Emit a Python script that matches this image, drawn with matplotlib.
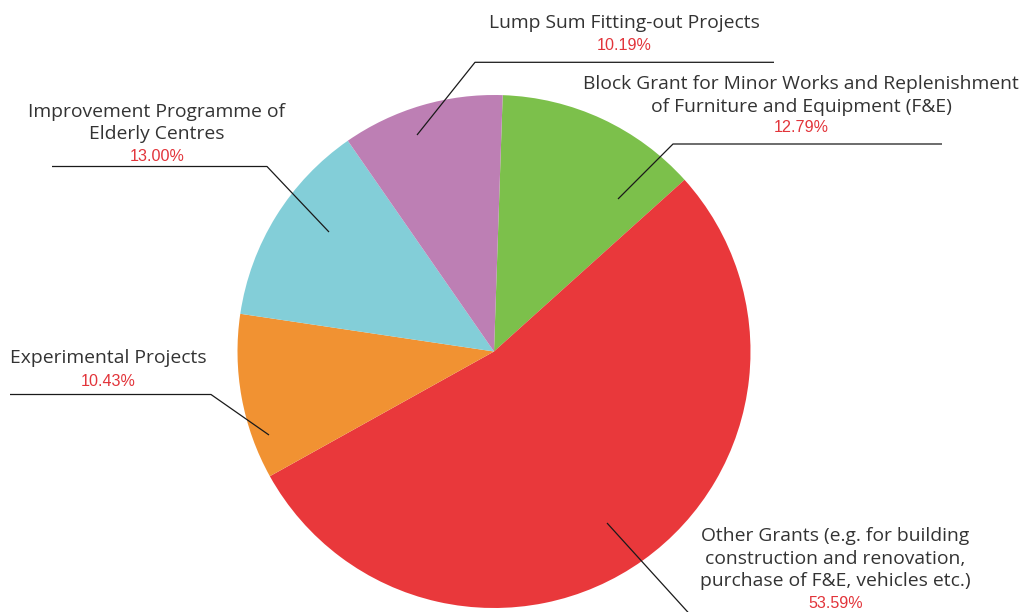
import matplotlib
matplotlib.use("Agg")
import matplotlib.pyplot as plt

# ---- data ----
categories = [
    "Block Grant for Minor Works and Replenishment\nof Furniture and Equipment (F&E)",
    "Other Grants (e.g. for building\nconstruction and renovation,\npurchase of F&E, vehicles etc.)",
    "Experimental Projects",
    "Improvement Programme of\nElderly Centres",
    "Lump Sum Fitting-out Projects",
]
values = [12.79, 53.59, 10.43, 13.00, 10.19]
pct_labels = ["12.79%", "53.59%", "10.43%", "13.00%", "10.19%"]
colors = ["#7CC04B", "#E9383B", "#F19232", "#83CED8", "#BD7FB4"]

W, H = 1026, 612
def Y(y):
    return H - y

# annotation layout (pixel coords, y from top)
# leader: (inner point, elbow point, horizontal end)
leaders = [
    ((618, 199), (673, 144), (942, 144)),
    ((607, 523), (695, 620), (985, 620)),
    ((269, 435), (211, 394.5), (10, 394.5)),
    ((329, 232), (267, 166.5), (52, 166.5)),
    ((417, 135), (475, 62.3), (774, 62.3)),
]
# text center x, label last-line baseline y, percent baseline y
text_pos = [
    (801, 111.5, 132),
    (835.5, 586, 608),
    (108, 363, 385.5),
    (157, 139.3, 161),
    (624.5, 27.7, 50.5),
]

fig = plt.figure(figsize=(W / 100, H / 100), dpi=100)
ax = fig.add_axes([0, 0, 1, 1])
ax.pie(values, colors=colors, startangle=88.06, counterclock=False,
       center=(494, Y(351.5)), radius=256.5,
       wedgeprops=dict(linewidth=0))
ax.set_xlim(0, W)
ax.set_ylim(0, H)
ax.set_aspect("equal")
ax.axis("off")

line_gap = 22.5
for cat, pct, ld, tp in zip(categories, pct_labels, leaders, text_pos):
    xs = [p[0] for p in ld]
    ys = [Y(p[1]) for p in ld]
    ax.plot(xs, ys, color="#1a1a1a", lw=0.9, solid_capstyle="butt")
    cx, by, py = tp
    lines = cat.split("\n")
    n = len(lines)
    for i, ln in enumerate(lines):
        yy = by - (n - 1 - i) * line_gap
        ax.text(cx, Y(yy), ln, ha="center", va="baseline",
                fontsize=13.9, family="Open Sans", color="#333333")
    ax.text(cx, Y(py), pct, ha="center", va="baseline",
            fontsize=11.6, family="Liberation Sans", color="#E2343A")

fig.savefig("out.png", dpi=100)
